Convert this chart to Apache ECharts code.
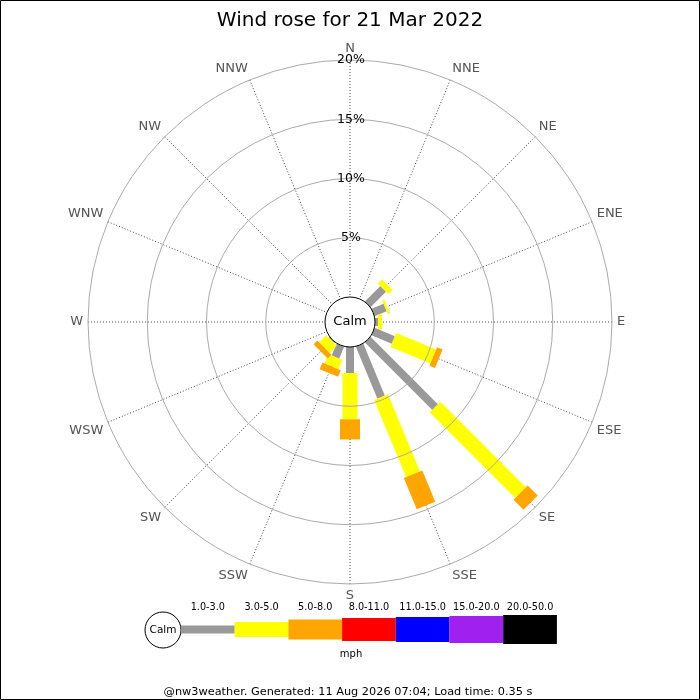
<!DOCTYPE html>
<html>
<head>
<meta charset="utf-8">
<script src="https://cdn.jsdelivr.net/npm/echarts@6/dist/echarts.min.js"></script>
<style>
  html, body { margin: 0; padding: 0; background: #fff; }
  #chart { width: 700px; height: 700px; }
</style>
</head>
<body>
<div id="chart"></div>
<script>
// 16 compass points, clockwise from north
var directions = ['N', 'NNE', 'NE', 'ENE', 'E', 'ESE', 'SE', 'SSE', 'S', 'SSW', 'SW', 'WSW', 'W', 'WNW', 'NW', 'NNW'];
var speedBins = ['1.0-3.0', '3.0-5.0', '5.0-8.0', '8.0-11.0', '11.0-15.0', '15.0-20.0', '20.0-50.0'];
var radiusTicks = [0, 5, 10, 15, 20];

// % of the day in each speed bin, per direction
var pct1to3   = [0, 0, 1.85, 1.1, 0.25, 1.85, 8.05, 4.75, 2.2, 1.1, 0.1, 0, 0, 0, 0, 0];
var pct3to5   = [0, 0, 0.5, 0.2, 0.35, 3.65, 10.2, 7.05, 3.9, 0.85, 0.85, 0, 0, 0, 0, 0];
var pct5to8   = [0, 0, 0, 0, 0, 0.5, 1.2, 2.85, 1.7, 0.6, 0.45, 0, 0, 0, 0, 0];
var pct8to11  = [0, 0, 0, 0, 0, 0, 0, 0, 0, 0, 0, 0, 0, 0, 0, 0];
var pct11to15 = [0, 0, 0, 0, 0, 0, 0, 0, 0, 0, 0, 0, 0, 0, 0, 0];
var pct15to20 = [0, 0, 0, 0, 0, 0, 0, 0, 0, 0, 0, 0, 0, 0, 0, 0];
var pct20to50 = [0, 0, 0, 0, 0, 0, 0, 0, 0, 0, 0, 0, 0, 0, 0, 0];

// styles
var binColors = ['#999999', '#ffff00', '#ffa500', '#ff0000', '#0000ff', '#a020f0', '#000000'];
var binWidths = [8, 15, 20, 23, 25, 27, 29];

var chart = echarts.init(document.getElementById('chart'));

// stack the bins outward: [dirIndex, binIndex, start, end]
var bins = [pct1to3, pct3to5, pct5to8, pct8to11, pct11to15, pct15to20, pct20to50];
var segments = [];
for (var d = 0; d < directions.length; d++) {
  var acc = 0;
  for (var b = 0; b < bins.length; b++) {
    var v = bins[b][d];
    if (v > 0) segments.push([d, b, acc, acc + v]);
    acc += v;
  }
}

function renderBar(params, api) {
  var bin = api.value(1);
  var ang = api.value(0) * 22.5;
  var p0 = api.coord([api.value(2), ang]);
  var p1 = api.coord([api.value(3), ang]);
  var rad = ang * Math.PI / 180;
  var h = binWidths[bin] / 2;
  var px = Math.cos(rad) * h, py = Math.sin(rad) * h;   // perpendicular to the spoke
  return {
    type: 'polygon',
    shape: { points: [
      [p0[0] - px, p0[1] - py], [p0[0] + px, p0[1] + py],
      [p1[0] + px, p1[1] + py], [p1[0] - px, p1[1] - py]
    ] },
    style: { fill: binColors[bin] }
  };
}

// legend key drawn under the rose
var legend = [
  { type: 'circle', shape: { cx: 163, cy: 630, r: 18 }, style: { fill: '#fff', stroke: '#000', lineWidth: 1 } },
  { type: 'text', x: 163, y: 630, style: { text: 'Calm', fontSize: 10.5, fill: '#000', align: 'center', verticalAlign: 'middle', fontFamily: 'DejaVu Sans' } }
];
var segW = 53.7;
for (var i = 0; i < speedBins.length; i++) {
  var x0 = 181 + i * segW;
  legend.push({ type: 'rect', shape: { x: x0, y: 629.5 - binWidths[i] / 2, width: segW, height: binWidths[i] }, style: { fill: binColors[i] } });
  legend.push({ type: 'text', x: x0 + segW / 2, y: 607.5, style: { text: speedBins[i], fontSize: 9.7, fill: '#000', align: 'center', verticalAlign: 'middle', fontFamily: 'DejaVu Sans' } });
}
legend.push({ type: 'text', x: 351, y: 654.5, style: { text: 'mph', fontSize: 10, fill: '#000', align: 'center', verticalAlign: 'middle', fontFamily: 'DejaVu Sans' } });
legend.push({ type: 'text', x: 348, y: 692.5, style: { text: '@nw3weather. Generated: 11 Aug 2026 07:04; Load time: 0.35 s', fontSize: 11.3, fill: '#000', align: 'center', verticalAlign: 'middle', fontFamily: 'DejaVu Sans' } });
legend.push({ type: 'text', x: 350, y: 322, z: 100, style: { text: 'Calm', fontSize: 13, fill: '#000', align: 'center', verticalAlign: 'middle', fontFamily: 'DejaVu Sans' } });
legend.push({ type: 'rect', shape: { x: 0.5, y: 0.5, width: 699, height: 699 }, style: { fill: 'none', stroke: '#000', lineWidth: 1 } });

var option = {
  animation: false,
  textStyle: { fontFamily: 'DejaVu Sans' },
  title: {
    text: 'Wind rose for 21 Mar 2022',
    left: 'center',
    top: 6,
    textStyle: { fontSize: 20, fontWeight: 'normal', color: '#000', fontFamily: 'DejaVu Sans' }
  },
  polar: { center: [350, 322], radius: [25, 262] },
  angleAxis: {
    type: 'value',
    min: 0,
    max: 360,
    interval: 22.5,
    startAngle: 90,
    clockwise: true,
    axisLine: { show: false },
    axisTick: { show: false },
    axisLabel: {
      margin: 5,
      fontSize: 13,
      color: '#555',
      formatter: function (v) { return directions[Math.round(v / 22.5)] || ''; }
    },
    splitLine: { show: true, lineStyle: { color: '#444', width: 1, type: [1, 2] } }
  },
  radiusAxis: {
    type: 'value',
    min: radiusTicks[0],
    max: radiusTicks[radiusTicks.length - 1],
    interval: radiusTicks[1] - radiusTicks[0],
    z: 50,
    axisLine: { show: false },
    axisTick: { show: false },
    axisLabel: {
      margin: 0,
      fontSize: 12.5,
      color: '#000',
      align: 'center',
      verticalAlign: 'middle',
      padding: [4, 0, 0, 2],
      formatter: function (v) { return v === 0 ? '' : v + '%'; }
    },
    splitLine: { show: true, lineStyle: { color: ['#000', '#aaa', '#aaa', '#aaa', '#aaa'], width: 1 } }
  },
  series: [{
    type: 'custom',
    coordinateSystem: 'polar',
    renderItem: renderBar,
    data: segments,
    silent: true
  }],
  graphic: legend
};

chart.setOption(option);
</script>
</body>
</html>
